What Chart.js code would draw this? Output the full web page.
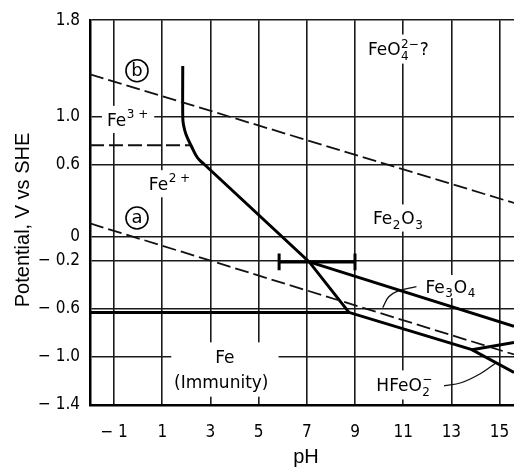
<!DOCTYPE html>
<html><head><meta charset="utf-8">
<script src="https://cdn.jsdelivr.net/npm/chart.js@4.4.1/dist/chart.umd.min.js"></script>
<style>html,body{margin:0;padding:0;background:#fff;overflow:hidden}</style>
</head><body>
<canvas id="c" width="514" height="469" style="display:block;width:514px;height:469px"></canvas>
<script>
// ---- tick values and labels ----
const xTickValues = [-1, 1, 3, 5, 7, 9, 11, 13, 15];
const xTickLabels = ['\u2212 1', '1', '3', '5', '7', '9', '11', '13', '15'];
const yTickValues = [1.8, 1.0, 0.6, 0, -0.2, -0.6, -1.0, -1.4];
const yTickLabels = ['1.8', '1.0', '0.6', '0', '\u2212 0.2', '\u2212 0.6', '\u2212 1.0', '\u2212 1.4'];

// ---- boundary lines (pH, potential V) ----
const bPH = [-2, 15.6];            const bE = [1.35, 0.28];        // (b) O2/H2O
const aPH = [-2, 15.6];            const aE = [0.11, -0.98];       // (a) H+/H2
const fe3PH = [-2, 2.15];          const fe3E = [0.76, 0.76];      // Fe3+/Fe2+
const curvePH = [1.85, 1.85, 1.88, 1.99, 2.2, 2.47, 2.75];
const curveE  = [1.42, 1.0, 0.93, 0.847, 0.756, 0.654, 0.6];        // Fe2+/Fe2O3 (curved)
const fe2PH = [2.75, 7.1, 8.75];   const fe2E = [0.6, -0.21, -0.63]; // Fe2+/Fe2O3, Fe2+/Fe3O4
const fePH = [-2, 8.75, 13.85, 15.6]; const feE = [-0.63, -0.63, -0.94, -1.13]; // Fe boundary
const oxPH = [7.1, 15.6];          const oxE = [-0.21, -0.745];    // Fe2O3/Fe3O4
const hfPH = [13.85, 15.6];        const hfE = [-0.94, -0.88];     // Fe3O4/HFeO2-
const barPH = [5.85, 9.0];         const barE = [-0.21, -0.21];    // pH range bar
const capLPH = [5.85, 5.85];       const capLE = [-0.14, -0.28];
const capRPH = [9.0, 9.0];         const capRE = [-0.14, -0.28];
const lead1PH = [10.15, 10.4, 10.75, 11.55]; const lead1E = [-0.59, -0.50, -0.455, -0.415];
const lead2PH = [12.7, 13.4, 14.2, 14.85];   const lead2E = [-1.24, -1.215, -1.14, -1.05];

const pts = (xs, ys) => xs.map((x, i) => ({x: x, y: ys[i]}));

const thick = {borderColor: '#000', borderWidth: 3, pointRadius: 0, fill: false, tension: 0};
const dashed = {borderColor: '#111', borderWidth: 1.8, borderDash: [14, 5], pointRadius: 0, fill: false, tension: 0};
const thin = {borderColor: '#111', borderWidth: 1.3, pointRadius: 0, fill: false, tension: 0.4};

// ---- annotations ----
const regionLabels = [
  {segs: [{t: 'Fe'}, {sup: '3 +'}], x: -0.42, y: 0.975, px: 5, py: 3},
  {segs: [{t: 'Fe'}, {sup: '2 +'}], x: 1.32, y: 0.44, px: 4, py: 3},
  {segs: [{t: 'FeO'}, {sup: '2\u2212', sub: '4'}, {t: '?'}], x: 10.8, y: 1.56, px: 4, py: 4},
  {segs: [{t: 'Fe'}, {sub: '2'}, {t: 'O'}, {sub: '3'}], x: 10.8, y: 0.155, px: 4, py: 3},
  {segs: [{t: 'Fe'}], x: 3.6, y: -1.0, px: 44, py: 4},
  {segs: [{t: '(Immunity)'}], x: 3.45, y: -1.21, px: 5, py: 4},
  {segs: [{t: 'Fe'}, {sub: '3'}, {t: 'O'}, {sub: '4'}], x: 12.98, y: -0.415, px: 2, py: 1},
  {segs: [{t: 'HFeO'}, {sup: '\u2212', sub: '2'}], x: 11.07, y: -1.233, px: 4, py: 4}
];
const circleLabels = [{t: 'b', x: -0.05, y: 1.38}, {t: 'a', x: -0.05, y: 0.155}];

const LFONT = '"DejaVu Sans", sans-serif';
const LSIZE = 17;

function layoutRich(ctx, segs, size) {
  const big = size + 'px ' + LFONT, sm = Math.round(size * 0.68) + 'px ' + LFONT;
  let w = 0; const parts = [];
  for (const s of segs) {
    if (s.t !== undefined) {
      ctx.font = big; const ww = ctx.measureText(s.t).width;
      parts.push({s: s, w: ww}); w += ww;
    } else {
      ctx.font = sm;
      const w1 = s.sup ? ctx.measureText(s.sup).width : 0;
      const w2 = s.sub ? ctx.measureText(s.sub).width : 0;
      const ww = Math.max(w1, w2) + 1.5;
      parts.push({s: s, w: ww}); w += ww;
    }
  }
  return {parts: parts, w: w, big: big, sm: sm};
}

function drawRich(ctx, L, cx, cy, size) {
  let x = cx - L.w / 2;
  const base = cy + 0.365 * size;
  ctx.textAlign = 'left'; ctx.textBaseline = 'alphabetic'; ctx.fillStyle = '#000';
  for (const p of L.parts) {
    const s = p.s;
    if (s.t !== undefined) { ctx.font = L.big; ctx.fillText(s.t, x, base); }
    else {
      ctx.font = L.sm;
      if (s.sup) ctx.fillText(s.sup, x + 0.5, base - 0.45 * size);
      if (s.sub) ctx.fillText(s.sub, x + 0.5, base + 0.27 * size);
    }
    x += p.w;
  }
}

const annot = {
  id: 'annot',
  beforeDraw(chart) {
    const ctx = chart.ctx;
    ctx.save(); ctx.fillStyle = '#fff'; ctx.fillRect(0, 0, chart.width, chart.height); ctx.restore();
  },
  beforeDatasetsDraw(chart) {
    const ctx = chart.ctx, xs = chart.scales.x, ys = chart.scales.y;
    ctx.save();
    for (const l of regionLabels) {
      const L = layoutRich(ctx, l.segs, LSIZE);
      const cx = xs.getPixelForValue(l.x), cy = ys.getPixelForValue(l.y);
      ctx.fillStyle = '#fff';
      ctx.fillRect(cx - L.w / 2 - l.px, cy - 0.62 * LSIZE - l.py, L.w + 2 * l.px, 1.24 * LSIZE + 2 * l.py);
    }
    ctx.restore();
  },
  afterDatasetsDraw(chart) {
    const ctx = chart.ctx, xs = chart.scales.x, ys = chart.scales.y;
    ctx.save();
    for (const l of regionLabels) {
      const L = layoutRich(ctx, l.segs, LSIZE);
      drawRich(ctx, L, xs.getPixelForValue(l.x), ys.getPixelForValue(l.y), LSIZE);
    }
    for (const c of circleLabels) {
      const cx = xs.getPixelForValue(c.x), cy = ys.getPixelForValue(c.y);
      ctx.beginPath(); ctx.arc(cx, cy, 11, 0, Math.PI * 2);
      ctx.fillStyle = '#fff'; ctx.fill();
      ctx.lineWidth = 1.6; ctx.strokeStyle = '#000'; ctx.stroke();
      ctx.fillStyle = '#000'; ctx.font = '18px ' + LFONT;
      ctx.textAlign = 'center'; ctx.textBaseline = 'middle';
      ctx.fillText(c.t, cx, cy + 0.5);
    }
    ctx.restore();
  },
  afterDraw(chart) {
    const ctx = chart.ctx;
    ctx.save();
    ctx.fillStyle = '#000';
    ctx.font = '20px "Liberation Sans", Arial, sans-serif';
    ctx.textAlign = 'center'; ctx.textBaseline = 'middle';
    ctx.translate(23, 220); ctx.rotate(-Math.PI / 2);
    ctx.fillText('Potential, V vs SHE', 0, 0);
    ctx.restore();
    ctx.save();
    ctx.fillStyle = '#000';
    ctx.font = '20px "Liberation Sans", Arial, sans-serif';
    ctx.textAlign = 'center'; ctx.textBaseline = 'middle';
    ctx.fillText('pH', 306, 457);
    ctx.restore();
  }
};

const TFONT = {family: '"Liberation Sans Narrow", "DejaVu Sans Condensed", sans-serif', size: 17};

new Chart(document.getElementById('c'), {
  type: 'line',
  data: {
    datasets: [
      Object.assign({data: pts(bPH, bE)}, dashed),
      Object.assign({data: pts(aPH, aE)}, dashed),
      Object.assign({data: pts(fe3PH, fe3E)}, dashed),
      Object.assign({data: pts(curvePH, curveE)}, thick, {tension: 0.4}),
      Object.assign({data: pts(fe2PH, fe2E)}, thick),
      Object.assign({data: pts(fePH, feE)}, thick),
      Object.assign({data: pts(oxPH, oxE)}, thick),
      Object.assign({data: pts(hfPH, hfE)}, thick),
      Object.assign({data: pts(barPH, barE)}, thick),
      Object.assign({data: pts(capLPH, capLE)}, thick),
      Object.assign({data: pts(capRPH, capRE)}, thick),
      Object.assign({data: pts(lead1PH, lead1E)}, thin),
      Object.assign({data: pts(lead2PH, lead2E)}, thin)
    ]
  },
  options: {
    responsive: false,
    animation: false,
    devicePixelRatio: 1,
    layout: {padding: {top: 18, right: 0, left: 0, bottom: 0}},
    plugins: {legend: {display: false}, tooltip: {enabled: false}},
    elements: {line: {capBezierPoints: true}},
    scales: {
      x: {
        type: 'linear', min: -2, max: 15.6,
        afterBuildTicks: s => { s.ticks = xTickValues.map(v => ({value: v})); },
        afterFit: s => { s.height = 64; s.paddingRight = 0; s.paddingLeft = 0; },
        ticks: {
          autoSkip: false, maxRotation: 0, padding: 17, color: '#000', font: TFONT,
          callback: (v) => xTickLabels[xTickValues.indexOf(v)]
        },
        grid: {color: '#1a1a1a', lineWidth: 1.6, drawTicks: false},
        border: {display: true, color: '#000', width: 2.5}
      },
      y: {
        type: 'linear', min: -1.4, max: 1.8,
        afterBuildTicks: s => { s.ticks = yTickValues.map(v => ({value: v})); },
        afterFit: s => { s.width = 90; },
        ticks: {
          autoSkip: false, padding: 10, color: '#000', font: TFONT,
          callback: (v) => yTickLabels[yTickValues.indexOf(v)]
        },
        grid: {color: '#1a1a1a', lineWidth: 1.6, drawTicks: false},
        border: {display: true, color: '#000', width: 2.5}
      }
    }
  },
  plugins: [annot]
});
</script>
</body></html>
